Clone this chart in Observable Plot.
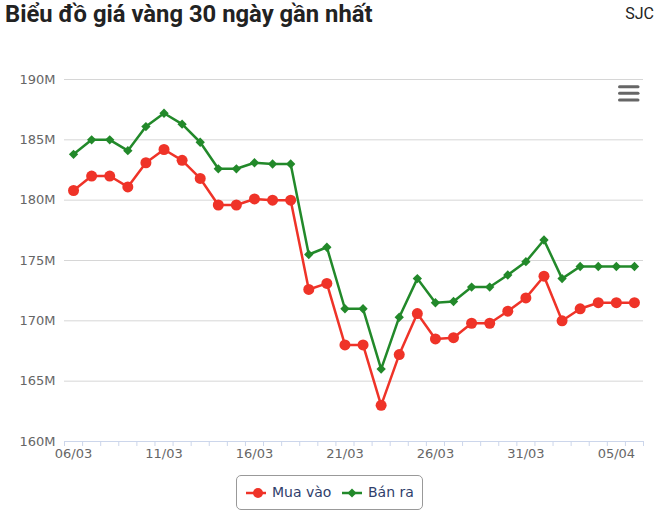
<!DOCTYPE html>
<html>
<head>
<meta charset="utf-8">
<script src="https://cdn.jsdelivr.net/npm/d3@7"></script>
<script src="https://cdn.jsdelivr.net/npm/@observablehq/plot@0.6"></script>
<style>
  html, body { margin: 0; padding: 0; background: #fff; }
  #wrap { position: relative; width: 666px; height: 513px; overflow: hidden; font-family: "DejaVu Sans", sans-serif; }
  #title { position: absolute; left: 5px; top: -2px; font-family: Roboto, sans-serif; font-weight: 700; font-size: 23.8px; color: #222; line-height: 32px; white-space: nowrap; }
  #src { position: absolute; right: 12px; top: 2px; font-family: Roboto, sans-serif; font-size: 16px; color: #222; line-height: 24px; }
  #chart { position: absolute; left: 0; top: 40px; }
  #menu { position: absolute; left: 617px; top: 84px; }
  #legend { position: absolute; left: 236px; top: 475px; width: 185px; height: 33px; border: 1px solid #999; border-radius: 5px; box-sizing: content-box; }
  .item { position: absolute; top: 0; height: 33px; line-height: 33px; font-size: 14px; color: #2f3e6b; white-space: nowrap; }
  .item svg { position: absolute; top: 11px; left: 0; }
  .item span { position: absolute; left: 26px; top: 0; }
</style>
</head>
<body>
<div id="wrap">
  <div id="title">Biểu đồ giá vàng 30 ngày gần nhất</div>
  <div id="src">SJC</div>
  <div id="chart"></div>
  <svg id="menu" width="24" height="20">
    <g stroke="#666" stroke-width="3" stroke-linecap="round">
      <line x1="2.5" y1="2.7" x2="21" y2="2.7"></line>
      <line x1="2.5" y1="9.3" x2="21" y2="9.3"></line>
      <line x1="2.5" y1="16" x2="21" y2="16"></line>
    </g>
  </svg>
  <div id="legend"></div>
</div>
<script>
const dates = ["06/03","07/03","08/03","09/03","10/03","11/03","12/03","13/03","14/03","15/03",
  "16/03","17/03","18/03","19/03","20/03","21/03","22/03","23/03","24/03","25/03",
  "26/03","27/03","28/03","29/03","30/03","31/03","01/04","02/04","03/04","04/04",
  "05/04","06/04"];
const muaVao = [180.8,182.0,182.0,181.1,183.1,184.2,183.3,181.8,179.6,179.6,
  180.1,180.0,180.0,172.6,173.1,168.0,168.0,163.0,167.2,170.6,
  168.5,168.6,169.8,169.8,170.8,171.9,173.7,170.0,171.0,171.5,
  171.5,171.5];
const banRa = [183.8,185.0,185.0,184.1,186.1,187.2,186.3,184.8,182.6,182.6,
  183.1,183.0,183.0,175.5,176.1,171.0,171.0,166.0,170.3,173.5,
  171.5,171.6,172.8,172.8,173.8,174.9,176.7,173.5,174.5,174.5,
  174.5,174.5];
const yTicks = [160,165,170,175,180,185,190];
const seriesNames = ["Mua vào","Bán ra"];
const colors = ["#ef3328","#22892a"];

const n = dates.length;
const rows = dates.map((d, i) => ({i, date: d, buy: muaVao[i], sell: banRa[i]}));

const chart = Plot.plot({
  width: 666,
  height: 430,
  marginTop: 39,
  marginBottom: 29,
  marginLeft: 64,
  marginRight: 23,
  style: {fontFamily: "DejaVu Sans, sans-serif", fontSize: "13px", color: "#666", background: "transparent", overflow: "visible"},
  x: {type: "linear", domain: [-0.5, n - 0.5], label: null},
  y: {domain: [160, 190], label: null},
  marks: [
    Plot.gridY(yTicks, {stroke: "#d6d6d6", strokeOpacity: 1, strokeWidth: 1}),
    Plot.axisY(yTicks, {tickSize: 0, tickPadding: 9, tickFormat: d => d + "M", fill: "#666", letterSpacing: "0.3px", label: null}),
    Plot.ruleY([160], {stroke: "#ccd6eb", strokeWidth: 1}),
    Plot.axisX(d3.range(-0.5, n), {tickSize: 5, tickFormat: () => "", stroke: "#ccd6eb", strokeOpacity: 1, label: null}),
    Plot.axisX(d3.range(0, n, 5), {tickSize: 0, tickPadding: 7, tickFormat: i => dates[i], fill: "#666", letterSpacing: "0.8px", label: null}),
    Plot.line(rows, {x: "i", y: "buy", stroke: colors[0], strokeWidth: 2.5}),
    Plot.line(rows, {x: "i", y: "sell", stroke: colors[1], strokeWidth: 2.5}),
    Plot.dot(rows, {x: "i", y: "buy", r: 5.5, fill: colors[0], symbol: "circle"}),
    Plot.dot(rows, {x: "i", y: "sell", r: 4.2, fill: colors[1], symbol: "diamond2"})
  ]
});
document.getElementById("chart").appendChild(chart);

// legend
const legend = document.getElementById("legend");
const itemLefts = [9, 105];
seriesNames.forEach((name, k) => {
  const item = document.createElement("div");
  item.className = "item";
  item.style.left = itemLefts[k] + "px";
  const sym = k === 0
    ? `<circle cx="12" cy="6" r="5" fill="${colors[0]}"/>`
    : `<path d="M10,1.5 L14.5,6 L10,10.5 L5.5,6 Z" fill="${colors[1]}"/>`;
  item.innerHTML = `<svg width="24" height="12"><line x1="0" y1="6" x2="20" y2="6" stroke="${colors[k]}" stroke-width="2.5"/>${sym}</svg><span>${name}</span>`;
  legend.appendChild(item);
});
</script>
</body>
</html>
